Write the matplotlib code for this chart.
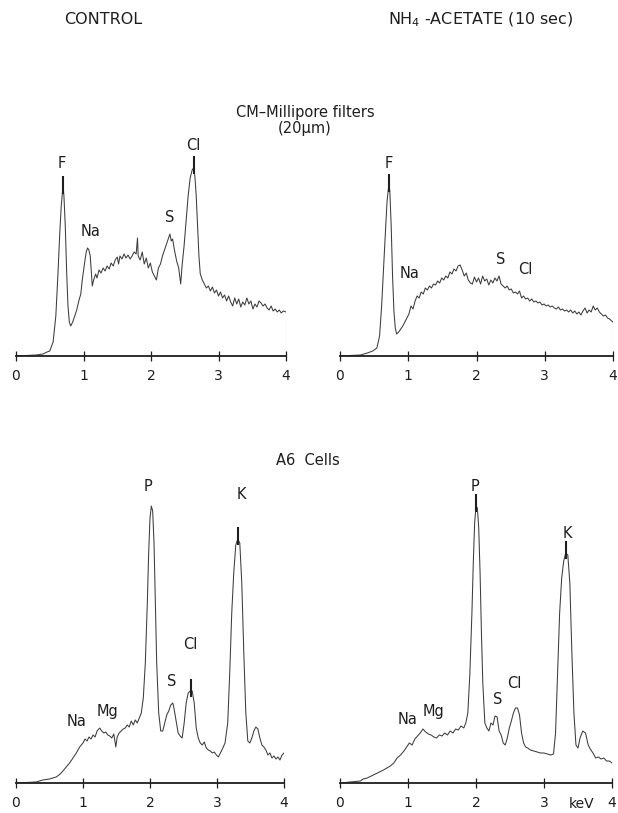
import numpy as np
import matplotlib
matplotlib.use("Agg")
import matplotlib.pyplot as plt

plt.rcParams['font.family'] = ['DejaVu Sans']
plt.rcParams['mathtext.default'] = 'regular'

# ---------------- data (energy in keV, counts in arbitrary units) ----------------
tl_kev = [0.00, 0.30, 0.40, 0.46, 0.50, 0.55, 0.59, 0.62, 0.65, 0.67, 0.69, 0.70, 0.71, 0.73, 0.75, 0.77,
          0.79, 0.81, 0.84, 0.87, 0.90, 0.93, 0.96, 0.98, 1.00, 1.02, 1.04, 1.06, 1.08, 1.10, 1.12, 1.13,
          1.15, 1.18, 1.20, 1.23, 1.26, 1.29, 1.32, 1.35, 1.38, 1.41, 1.44, 1.47, 1.50, 1.52, 1.54, 1.57,
          1.60, 1.63, 1.66, 1.69, 1.72, 1.75, 1.78, 1.80, 1.81, 1.84, 1.87, 1.90, 1.93, 1.96, 1.99, 2.02,
          2.05, 2.08, 2.11, 2.14, 2.17, 2.20, 2.23, 2.26, 2.28, 2.30, 2.32, 2.35, 2.38, 2.41, 2.44, 2.46,
          2.49, 2.52, 2.55, 2.58, 2.61, 2.63, 2.65, 2.67, 2.69, 2.71, 2.73, 2.76, 2.79, 2.82, 2.85, 2.88,
          2.91, 2.94, 2.97, 3.00, 3.03, 3.06, 3.09, 3.12, 3.15, 3.18, 3.21, 3.24, 3.27, 3.30, 3.33, 3.36,
          3.39, 3.42, 3.45, 3.48, 3.51, 3.54, 3.57, 3.60, 3.63, 3.66, 3.69, 3.72, 3.75, 3.78, 3.81, 3.84,
          3.87, 3.90, 3.93, 3.96, 4.00]
tl_counts = [0, 1, 2, 4, 5, 14, 40, 80, 125, 150, 165, 168, 160, 130, 85, 50,
             34, 30, 34, 40, 46, 55, 62, 75, 85, 95, 104, 108, 106, 100, 80, 70,
             76, 82, 78, 86, 83, 88, 85, 90, 87, 93, 90, 96, 99, 92, 100, 97,
             102, 98, 101, 97, 100, 104, 102, 118, 100, 96, 104, 92, 98, 88, 93, 84,
             80, 76, 88, 92, 100, 106, 112, 118, 122, 115, 117, 105, 95, 88, 72, 90,
             110, 135, 160, 178, 186, 188, 180, 160, 130, 100, 82, 76, 72, 68, 70, 65,
             69, 63, 66, 60, 64, 58, 61, 55, 60, 54, 50, 58, 52, 57, 49, 54,
             51, 58, 52, 55, 47, 52, 49, 55, 53, 50, 52, 48, 46, 50, 45, 47,
             44, 46, 43, 45, 44]

tr_kev = [0.00, 0.30, 0.40, 0.48, 0.54, 0.58, 0.61, 0.64, 0.67, 0.69, 0.71, 0.72, 0.73, 0.75, 0.77, 0.79,
          0.81, 0.83, 0.86, 0.89, 0.92, 0.95, 0.98, 1.01, 1.04, 1.07, 1.10, 1.13, 1.16, 1.19, 1.22, 1.25,
          1.28, 1.31, 1.34, 1.37, 1.40, 1.43, 1.46, 1.49, 1.52, 1.55, 1.58, 1.61, 1.64, 1.67, 1.70, 1.73,
          1.76, 1.79, 1.82, 1.85, 1.88, 1.91, 1.94, 1.97, 2.00, 2.03, 2.06, 2.09, 2.12, 2.15, 2.18, 2.21,
          2.24, 2.27, 2.30, 2.33, 2.36, 2.39, 2.42, 2.45, 2.48, 2.51, 2.54, 2.57, 2.60, 2.63, 2.66, 2.69,
          2.72, 2.75, 2.78, 2.81, 2.84, 2.87, 2.90, 2.93, 2.96, 2.99, 3.02, 3.05, 3.08, 3.11, 3.14, 3.17,
          3.20, 3.23, 3.26, 3.29, 3.32, 3.35, 3.38, 3.41, 3.44, 3.47, 3.50, 3.53, 3.56, 3.59, 3.62, 3.65,
          3.68, 3.71, 3.74, 3.77, 3.80, 3.83, 3.86, 3.89, 3.92, 3.95, 3.98, 4.00]
tr_counts = [0, 1, 3, 5, 8, 20, 50, 90, 130, 155, 168, 170, 165, 130, 80, 45,
             28, 22, 24, 27, 30, 34, 38, 42, 50, 47, 55, 60, 58, 64, 62, 68,
             66, 70, 68, 72, 71, 75, 73, 78, 76, 80, 78, 84, 82, 87, 85, 90,
             91, 86, 80, 83, 76, 73, 72, 79, 74, 78, 72, 80, 75, 77, 71, 76,
             73, 78, 75, 80, 72, 70, 68, 70, 66, 67, 63, 64, 62, 65, 58, 60,
             57, 58, 55, 57, 54, 55, 53, 54, 51, 52, 50, 51, 49, 50, 48, 47,
             49, 46, 47, 45, 46, 44, 46, 43, 45, 42, 44, 41, 45, 48, 43, 46,
             44, 50, 46, 48, 44, 42, 40, 41, 38, 37, 35, 34]

bl_kev = [0.00, 0.30, 0.40, 0.50, 0.60, 0.66, 0.70, 0.75, 0.80, 0.85, 0.90, 0.95, 1.00, 1.03, 1.06, 1.09,
          1.12, 1.15, 1.18, 1.21, 1.25, 1.28, 1.31, 1.34, 1.37, 1.40, 1.43, 1.46, 1.49, 1.51, 1.54, 1.57,
          1.60, 1.63, 1.66, 1.69, 1.72, 1.75, 1.78, 1.81, 1.84, 1.87, 1.90, 1.93, 1.96, 1.98, 2.00, 2.02,
          2.04, 2.06, 2.08, 2.10, 2.13, 2.16, 2.19, 2.22, 2.25, 2.28, 2.31, 2.34, 2.36, 2.39, 2.42, 2.45,
          2.48, 2.51, 2.54, 2.57, 2.60, 2.63, 2.66, 2.69, 2.72, 2.75, 2.78, 2.81, 2.84, 2.87, 2.90, 2.93,
          2.96, 2.99, 3.02, 3.05, 3.08, 3.12, 3.16, 3.19, 3.22, 3.25, 3.28, 3.31, 3.34, 3.37, 3.40, 3.43,
          3.46, 3.49, 3.52, 3.55, 3.58, 3.61, 3.64, 3.67, 3.70, 3.73, 3.76, 3.79, 3.82, 3.85, 3.88, 3.91,
          3.94, 3.97, 4.00]
bl_counts = [0, 1, 3, 4, 6, 9, 12, 16, 20, 25, 30, 36, 40, 44, 42, 46,
             44, 48, 46, 52, 55, 52, 50, 51, 48, 47, 45, 49, 36, 46, 50, 52,
             54, 55, 58, 56, 62, 58, 63, 60, 65, 70, 85, 120, 180, 230, 265, 277,
             272, 240, 180, 120, 70, 52, 52, 60, 68, 72, 78, 80, 74, 62, 50, 47,
             45, 60, 80, 90, 92, 92, 80, 55, 45, 40, 38, 41, 35, 33, 32, 30,
             31, 28, 26, 30, 34, 40, 60, 110, 170, 210, 238, 244, 240, 200, 130, 70,
             42, 40, 45, 52, 56, 54, 45, 38, 36, 33, 28, 30, 25, 27, 24, 26,
             23, 28, 30]

br_kev = [0.00, 0.30, 0.34, 0.40, 0.46, 0.52, 0.58, 0.64, 0.69, 0.74, 0.79, 0.84, 0.89, 0.94, 0.98, 1.02,
          1.06, 1.10, 1.14, 1.18, 1.22, 1.26, 1.30, 1.34, 1.38, 1.42, 1.46, 1.50, 1.54, 1.58, 1.62, 1.66,
          1.70, 1.74, 1.78, 1.82, 1.85, 1.88, 1.91, 1.94, 1.96, 1.98, 2.00, 2.02, 2.04, 2.06, 2.08, 2.10,
          2.13, 2.16, 2.19, 2.22, 2.25, 2.28, 2.31, 2.34, 2.37, 2.40, 2.43, 2.46, 2.49, 2.52, 2.55, 2.58,
          2.61, 2.64, 2.67, 2.70, 2.73, 2.76, 2.80, 2.85, 2.90, 2.95, 3.00, 3.05, 3.10, 3.14, 3.17, 3.20,
          3.23, 3.26, 3.29, 3.32, 3.35, 3.38, 3.41, 3.44, 3.47, 3.50, 3.53, 3.57, 3.61, 3.65, 3.68, 3.72,
          3.76, 3.80, 3.84, 3.88, 3.92, 3.96, 4.00]
br_counts = [0, 2, 4, 5, 7, 9, 11, 13, 15, 17, 20, 25, 28, 32, 36, 40,
             38, 44, 47, 50, 54, 51, 49, 48, 46, 45, 48, 47, 50, 48, 52, 50,
             54, 53, 57, 55, 60, 70, 110, 170, 220, 260, 277, 275, 255, 210, 150, 100,
             60, 55, 52, 60, 58, 67, 66, 52, 48, 40, 38, 45, 55, 62, 70, 75,
             75, 68, 50, 40, 36, 35, 33, 32, 31, 30, 30, 29, 28, 29, 50, 110,
             170, 205, 222, 230, 228, 200, 130, 70, 38, 35, 45, 52, 50, 38, 34, 30,
             25, 26, 24, 25, 22, 22, 20]

# element labels: (name, keV, label height)
tl_labels = [("F", 0.68, 192), ("Na", 1.10, 125), ("S", 2.28, 138), ("Cl", 2.62, 210)]
tr_labels = [("F", 0.72, 193), ("Na", 1.02, 83), ("S", 2.35, 96), ("Cl", 2.72, 86)]
bl_labels = [("Na", 0.91, 62), ("Mg", 1.36, 72), ("P", 1.97, 297), ("S", 2.33, 102),
             ("Cl", 2.60, 139), ("K", 3.37, 289)]
br_labels = [("Na", 0.99, 64), ("Mg", 1.37, 72), ("P", 1.99, 297), ("S", 2.32, 84),
             ("Cl", 2.57, 100), ("K", 3.35, 249)]

# peak marker energies (short bold strokes at the peak tops)
tl_marks = [0.70, 2.63]
tr_marks = [0.72]
bl_marks = [3.31, 2.61]
br_marks = [2.00, 3.32]

xticks = [0, 1, 2, 3, 4]

# ---------------- figure ----------------
W, H = 618, 813
fig = plt.figure(figsize=(W / 100, H / 100), dpi=100)
fig.patch.set_facecolor('white')

def add_ax(x0, x1, ytop, ybase):
    return fig.add_axes([x0 / W, (H - ybase) / H, (x1 - x0) / W, (ybase - ytop) / H])

panels = [
    (add_ax(16, 286, 130, 356), tl_kev, tl_counts, tl_labels, tl_marks, 226),
    (add_ax(340, 613, 130, 356), tr_kev, tr_counts, tr_labels, tr_marks, 226),
    (add_ax(16, 284, 470, 783), bl_kev, bl_counts, bl_labels, bl_marks, 313),
    (add_ax(340, 612, 470, 783), br_kev, br_counts, br_labels, br_marks, 313),
]

ink = '#1e1e1e'
for ax, kev, cnt, labels, marks, ymax in panels:
    ax.set_facecolor('none')
    ax.plot(kev, cnt, color='#3c3c3c', lw=0.75)
    ax.vlines(kev[-1], 0, cnt[-1], color='#3c3c3c', lw=0.75)
    for m in marks:
        top = float(np.interp(m, kev, cnt))
        ax.vlines(m, top - 6, top + 12, color=ink, lw=1.5)
    for name, x, y in labels:
        ax.text(x, y, name, ha='center', va='center', fontsize=10.5, color=ink)
    ax.set_xlim(0, 4)
    ax.set_ylim(0, ymax)
    for s in ('top', 'right', 'left'):
        ax.spines[s].set_visible(False)
    ax.spines['bottom'].set_linewidth(1.3)
    ax.spines['bottom'].set_color(ink)
    ax.set_yticks([])
    ax.set_xticks(xticks)
    ax.set_xticklabels([str(t) for t in xticks])
    ax.tick_params(axis='x', direction='inout', length=7, width=0.9, colors=ink,
                   labelsize=10, pad=6)
    ax.patch.set_visible(False)

fig.text(103 / W, 1 - 20 / H, "CONTROL", ha='center', va='center', fontsize=11.5, color=ink)
fig.text(388 / W, 1 - 20 / H, "NH$_4$ -ACETATE (10 sec)", ha='left', va='center',
         fontsize=11.5, color=ink)
fig.text(305 / W, 1 - 112 / H, "CM\u2013Millipore filters", ha='center', va='center',
         fontsize=10.5, color=ink)
fig.text(305 / W, 1 - 128 / H, "(20\u00b5m)", ha='center', va='center', fontsize=10.5, color=ink)
fig.text(308 / W, 1 - 460 / H, "A6  Cells", ha='center', va='center', fontsize=10.5, color=ink)
fig.text(582 / W, 1 - 804 / H, "keV", ha='center', va='center', fontsize=10, color=ink)

fig.savefig("out.png", dpi=100, facecolor='white')
